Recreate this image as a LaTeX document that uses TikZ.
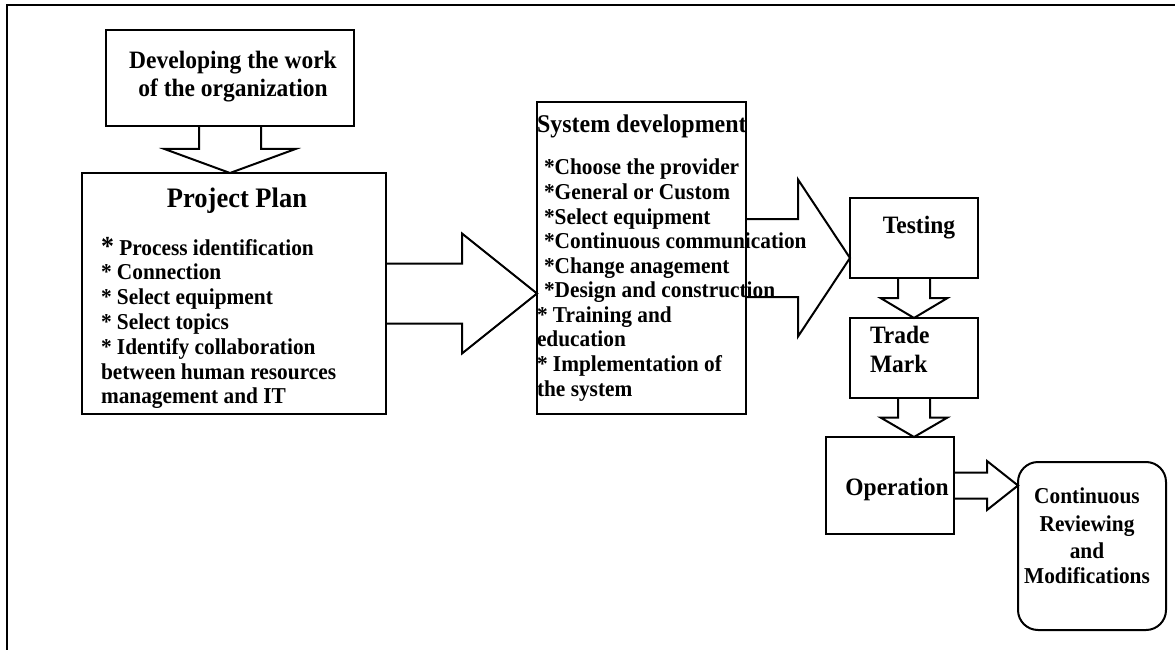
\documentclass[tikz,border=0pt]{standalone}
\usepackage{fontspec}
\setmainfont[FakeStretch=0.94]{Liberation Serif}
\usetikzlibrary{calc}
\begin{document}
\begin{tikzpicture}[x=1pt,y=-1pt,
  box/.style={draw, line width=2pt, inner sep=0pt, outer sep=0pt, rectangle},
  blk/.style={draw, line width=2pt, line join=miter},
  lbl/.style={inner sep=0pt, outer sep=0pt, font=\bfseries\fontsize{22.7}{26}\selectfont},
  big/.style={inner sep=0pt, outer sep=0pt, font=\bfseries\fontsize{25}{29}\selectfont}]
\useasboundingbox (0,0) rectangle (1175,650);
% frame
\draw[line width=2.2pt] (7,650) -- (7,5) -- (1175,5);
% boxes
\node[box, minimum width=248pt, minimum height=96pt] (dev) at (230,78) {};
\node[box, minimum width=304pt, minimum height=241pt] (pp) at (234,293.5) {};
\node[box, minimum width=209pt, minimum height=312pt] (sd) at (641.5,258) {};
\node[box, minimum width=128pt, minimum height=80pt] (test) at (914,238) {};
\node[box, minimum width=128pt, minimum height=80pt] (tm) at (914,358) {};
\node[box, minimum width=128pt, minimum height=97pt] (op) at (890,485.5) {};
\node[box, rounded corners=20pt, minimum width=148pt, minimum height=168pt] (cr) at (1092,546) {};
% block arrows
\draw[blk] ($(dev.south)+(-31,0)$) -- ++(0,23) -- ++(-34.5,0) -- ($(dev.south |- pp.north)$)
  -- ($(dev.south)+(65.5,23)$) -- ++(-34.5,0) -- ($(dev.south)+(31,0)$);
\draw[blk] ($(pp.east)+(0,-30)$) -- ++(76,0) -- ++(0,-30) -- ($(sd.west |- pp.east)$)
  -- ($(pp.east)+(76,60)$) -- ++(0,-30) -- ($(pp.east)+(0,30)$);
\draw[blk] ($(sd.east)+(0,-39)$) -- ++(52,0) -- ++(0,-39.5) -- ($(test.west |- sd.east)$)
  -- ($(sd.east)+(52,78.5)$) -- ++(0,-39.5) -- ($(sd.east)+(0,39)$);
\draw[blk] ($(test.south)+(-16,0)$) -- ++(0,20) -- ++(-17.5,0) -- (tm.north)
  -- ($(test.south)+(33.5,20)$) -- ++(-17.5,0) -- ($(test.south)+(16,0)$);
\draw[blk] ($(tm.south)+(-16,0)$) -- ++(0,19.5) -- ++(-17.5,0) -- ($(tm.south |- op.north)$)
  -- ($(tm.south)+(33.5,19.5)$) -- ++(-17.5,0) -- ($(tm.south)+(16,0)$);
\draw[blk] ($(op.east)+(0,-13)$) -- ++(33,0) -- ++(0,-11.5) -- ($(cr.west |- op.east)$)
  -- ($(op.east)+(33,24.5)$) -- ++(0,-11.5) -- ($(op.east)+(0,13)$);
% texts
\node[big, anchor=base] (devt1) at (233,69) {Developing the work};
\node[big, anchor=base] (devt2) at (233,97) {of the organization};
\node[lbl, font=\bfseries\fontsize{28.2}{32}\selectfont, anchor=base] (ppt) at (237,207) {Project Plan};
\node[lbl, anchor=base west] (pp1) at (101,255) {{\fontsize{27.5}{27.5}\selectfont *} Process identification};
\foreach \yy/\tt [count=\i from 2] in {279.8/{* Connection}, 304.6/{* Select equipment}, 329.4/{* Select topics},
  354.2/{* Identify collaboration}, 379/{between human resources}, 403.8/{management and IT}}
  \node[lbl, anchor=base west] (pp\i) at (101,\yy) {\tt};
\node[lbl, font=\bfseries\fontsize{25.5}{29}\selectfont, anchor=base west] (sdt) at (537,133) {System development};
\foreach \yy/\tt [count=\i] in {175/{*Choose the provider}, 199.6/{*General or Custom}, 224.1/{*Select equipment},
  248.7/{*Continuous communication}, 273.2/{*Change anagement}, 297.8/{*Design and construction}}
  \node[lbl, anchor=base west] (sd\i) at (544,\yy) {\tt};
\foreach \yy/\tt [count=\i from 7] in {322.3/{* Training and}, 346.9/{education}, 371.4/{* Implementation of}, 396/{the system}}
  \node[lbl, anchor=base west] (sd\i) at (537,\yy) {\tt};
\node[big, anchor=base] (testt) at (919,233) {Testing};
\node[big, anchor=base west] (tmt1) at (870,343) {Trade};
\node[big, anchor=base west] (tmt2) at (870,372) {Mark};
\node[big, anchor=base] (opt) at (897,495) {Operation};
\foreach \yy/\tt [count=\i] in {503/Continuous, 531/Reviewing, 558/and, 583/Modifications}
  \node[lbl, anchor=base] (crt\i) at (1087,\yy) {\tt};
\end{tikzpicture}
\end{document}
